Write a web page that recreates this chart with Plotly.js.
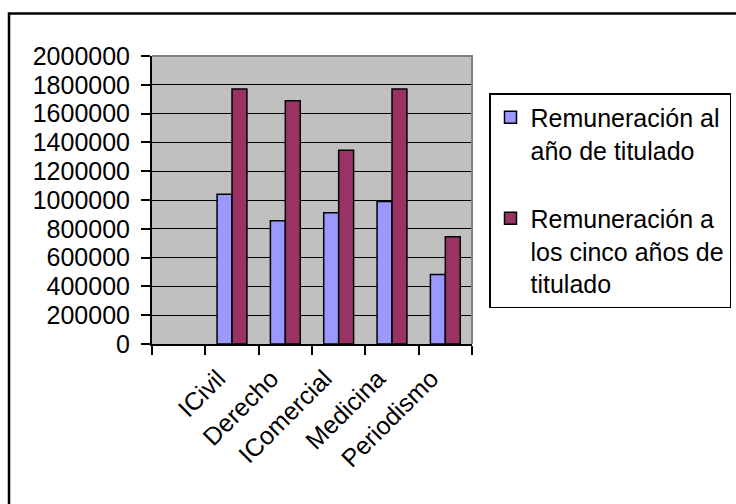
<!DOCTYPE html>
<html>
<head>
<meta charset="utf-8">
<script src="https://cdn.plot.ly/plotly-3.0.1.min.js"></script>
<style>
html,body{margin:0;padding:0;background:#fff;}
#chart{width:736px;height:504px;}
</style>
</head>
<body>
<div id="chart"></div>
<script>
const categories = [" ", "ICivil", "Derecho", "IComercial", "Medicina", "Periodismo"];
const seriesNames = ["Remuneración al<br>año de titulado", "Remuneración a<br>los cinco años de<br>titulado"];
const remunAnio1 = [null, 1040000, 856000, 911000, 990000, 482000];
const remunAnio5 = [null, 1770000, 1690000, 1345000, 1770000, 745000];
const yTicks = [0, 200000, 400000, 600000, 800000, 1000000, 1200000, 1400000, 1600000, 1800000, 2000000];

const FONT = '"Liberation Sans", Arial, sans-serif';
const traces = [
  {type:'bar', x:categories, y:remunAnio1, name:seriesNames[0], legendgroup:'a',
   marker:{color:'#9999FF', line:{color:'#000', width:1.5}}, hoverinfo:'x+y'},
  {type:'bar', x:categories, y:remunAnio5, name:seriesNames[1], legendgroup:'b',
   marker:{color:'#993366', line:{color:'#000', width:1.5}}, hoverinfo:'x+y'}
];

const L=152, R=472, T=56, B=344;
const W=736, H=504;
const px = x => (x-L)/(R-L);
const py = y => (B-y)/(B-T);

const layout = {
  width:W, height:H,
  margin:{l:L, r:W-R, t:T, b:H-B, autoexpand:false},
  paper_bgcolor:'#fff', plot_bgcolor:'#C0C0C0',
  font:{family:FONT, size:25, color:'#000'},
  barmode:'group', bargap:0.44, bargroupgap:0,
  showlegend:true,
  legend:{x:px(489), y:py(93), xanchor:'left', yanchor:'top', valign:'top',
    bgcolor:'#fff', bordercolor:'#000', borderwidth:1.5,
    font:{family:FONT, size:25, color:'#000'},
    traceorder:'grouped', tracegroupgap:33},
  xaxis:{type:'category', categoryorder:'array', categoryarray:categories,
    range:[-0.5, categories.length-0.5], tickson:'boundaries',
    ticks:'outside', ticklen:9, tickwidth:2, tickcolor:'#000',
    showline:true, linecolor:'#000', linewidth:2, showgrid:false,
    tickangle:-45, ticklabelshift:-14, ticklabelstandoff:8,
    tickfont:{family:FONT, size:25, color:'#000'}, fixedrange:true},
  yaxis:{range:[0, 2000000], tickmode:'array', tickvals:yTicks, ticktext:yTicks.map(String),
    ticks:'outside', ticklen:9, tickwidth:2, tickcolor:'#000',
    showline:true, linecolor:'#000', linewidth:2,
    showgrid:true, gridcolor:'#000', gridwidth:1, zeroline:false,
    ticklabelstandoff:6,
    tickfont:{family:FONT, size:25, color:'#000'}, fixedrange:true},
  shapes:[
    {type:'path', xref:'paper', yref:'paper', layer:'above',
     path:`M 0 1 L 1 1 L 1 0`, line:{color:'#808080', width:2}},
    {type:'path', xref:'paper', yref:'paper', layer:'above',
     path:`M ${px(760)} ${py(13.5)} L ${px(9)} ${py(13.5)} L ${px(9)} ${py(530)}`,
     line:{color:'#000', width:2.5}}
  ]
};

Plotly.newPlot('chart', traces, layout, {displayModeBar:false, staticPlot:true});
</script>
</body>
</html>
